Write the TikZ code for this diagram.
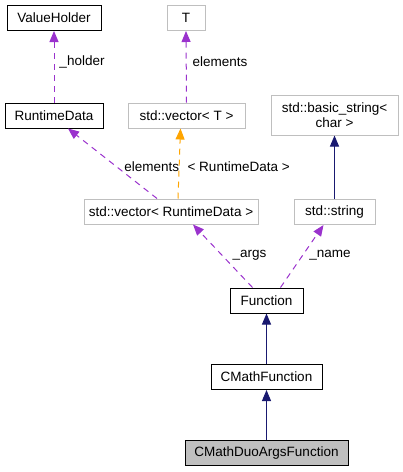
\documentclass[tikz,border=0pt]{standalone}
\usepackage{fontspec}
\setmainfont{Liberation Sans}
\usepackage{tikz}
\usetikzlibrary{arrows.meta}
\usepackage{xcolor}
\definecolor{usecol}{HTML}{9A32CD}
\definecolor{tplcol}{HTML}{FFA500}
\definecolor{inhcol}{HTML}{191970}

\begin{document}
\begin{tikzpicture}[x=1pt,y=-1pt,>={Triangle[length=11pt,width=9pt]},
  every node/.style={font=\fontsize{13.5}{15}\selectfont},
  cls/.style={draw=black,line width=1pt,fill=white,inner sep=0pt,minimum height=25pt},
  ext/.style={draw=black!25,line width=1pt,fill=white,inner sep=0pt,minimum height=25pt},
  cur/.style={cls,fill=black!25},
  usage/.style={usecol,line width=1pt,dash pattern=on 6pt off 5pt},
  tmpl/.style={tplcol,line width=1pt,dash pattern=on 6pt off 5pt},
  inh/.style={inhcol,line width=1pt},
  lbl/.style={inner sep=0pt,anchor=west,text=black}]
\useasboundingbox (0,0) rectangle (403,472);
\node[cls,minimum width=94pt] (vholder) at (54,18) {ValueHolder};
\node[cls,minimum width=98pt] (rtdata) at (54,115.5) {RuntimeData};
\node[ext,minimum width=38pt] (tparam) at (186,18) {T};
\node[ext,minimum width=117pt] (vect) at (186.5,115.5) {std::vector< T >};
\node[ext,minimum width=127pt,minimum height=40pt,align=center] (bstring) at (334.5,115) {std::basic\_string<\\char >};
\node[ext,minimum width=174pt] (vecrd) at (171,211.5) {std::vector< RuntimeData >};
\node[ext,minimum width=81pt] (sstring) at (334.5,212) {std::string};
\node[cls,minimum width=73pt] (func) at (266.5,300.5) {Function};
\node[cls,minimum width=111pt] (cmfunc) at (266.5,377) {CMathFunction};
\node[cur,minimum width=163pt] (cmduo) at (266.5,453) {CMathDuoArgsFunction};
% members
\draw[usage,->] (rtdata.north) -- node[lbl,pos=0.57,xshift=5pt]{\_holder} (vholder.south);
\draw[usage,->] (vect.north) -- node[lbl,pos=0.57,xshift=6pt]{elements} (tparam.south);
\draw[usage,->] ([xshift=-14pt]vecrd.north) -- node[lbl,pos=0.45,xshift=7pt]{elements} ([xshift=14pt]rtdata.south);
\draw[tmpl,->] ([xshift=7pt]vecrd.north) -- node[lbl,pos=0.45,xshift=8pt]{< RuntimeData >} ([xshift=-6pt]vect.south);
\draw[usage,->] ([xshift=-14pt]func.north) -- node[lbl,pos=0.51,xshift=10pt]{\_args} ([xshift=22pt]vecrd.south);
\draw[usage,->] ([xshift=14pt]func.north) -- node[lbl,pos=0.52,xshift=6pt]{\_name} ([xshift=-11pt]sstring.south);
% inheritance
\draw[inh,->] (sstring.north) -- (bstring.south);
\draw[inh,->] (cmfunc.north) -- (func.south);
\draw[inh,->] (cmduo.north) -- (cmfunc.south);
\end{tikzpicture}
\end{document}
